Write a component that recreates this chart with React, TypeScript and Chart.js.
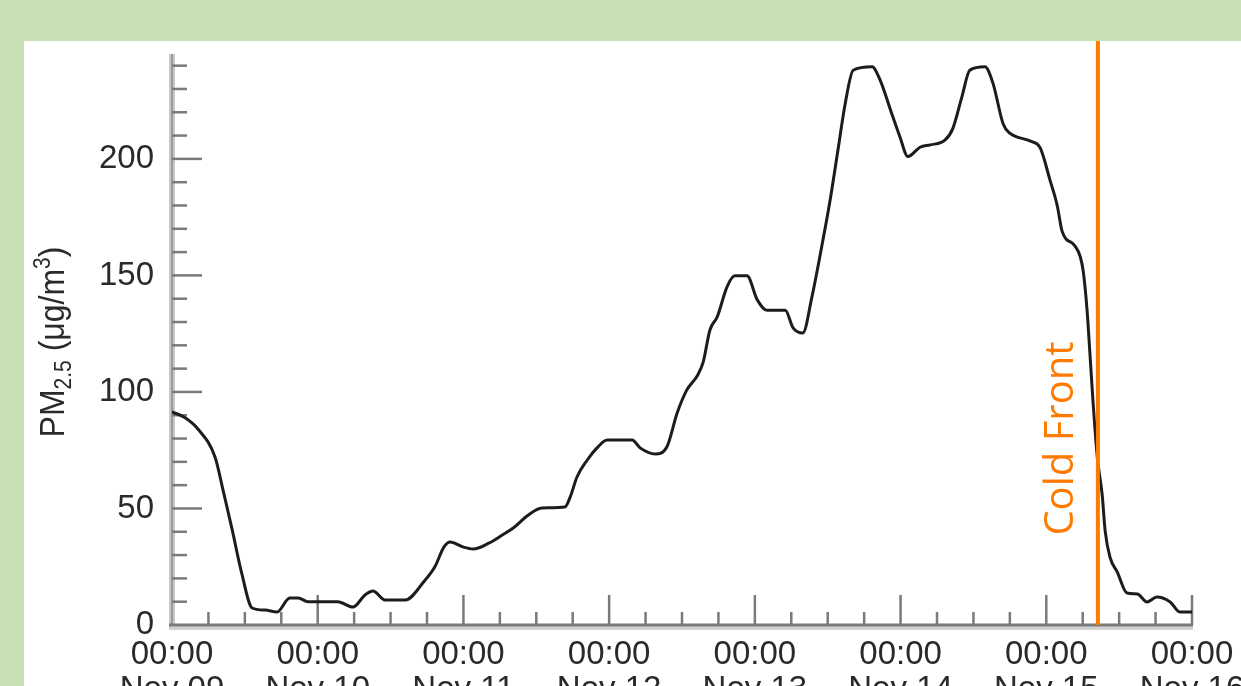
import React, { useEffect, useRef } from "react";
import { Chart, registerables } from "chart.js";

Chart.register(...registerables);

// hours since Nov 09 00:00
const hours = [
  0, 2.1, 4.3, 7.1, 8.4, 9.9, 11.5, 13.2, 15.3, 17.3, 19.4, 20.8, 22.4, 27.3, 29.8, 31.8, 33.1, 35.1, 38.4, 41.7,
  43.3, 44.8, 45.8, 47.9, 49.6, 52.1, 54.4, 56.2, 58.6, 60.9, 64.7, 65.6, 66.7, 68.4, 70.0, 71.7, 75.8, 77.1, 79.6, 81.5,
  83.2, 84.8, 86.6, 87.5, 88.6, 89.8, 91.4, 92.7, 94.7, 96.4, 98.0, 101.0, 102.3, 103.9, 105.4, 107.2, 108.4, 109.7, 110.9, 112.2,
  115.3, 116.6, 118.6, 119.9, 121.2, 123.2, 124.9, 127.3, 128.6, 130.1, 131.4, 133.9, 135.2, 136.9, 138.0, 141.3, 143.0, 144.6, 145.8, 146.6,
  148.7, 149.6, 150.1, 150.7, 151.2, 151.7, 152.4, 153.2, 153.7, 154.5, 155.7, 157.3, 159.0, 160.6, 162.2, 164.4, 166.0, 168.0,
];
const pm25 = [
  91.5, 89, 84, 72, 58, 41, 22, 7.3, 6.4, 5.6, 11.6, 11.6, 10, 10, 7.7, 12.9, 14.6, 10.7, 10.7, 19.3,
  25, 33.5, 35.6, 33.5, 32.6, 35, 38.6, 41.6, 47, 50.2, 50.6, 55, 63.5, 70.8, 76, 79.4, 79.4, 76, 73.4, 76.4,
  91, 100.9, 107.3, 112.9, 126.6, 132.2, 145, 149.8, 149.8, 139.5, 135, 135, 127.5, 125.3, 140.8, 165, 182.4, 204, 224, 238,
  239.5, 234, 219, 209.4, 201, 205, 206, 208, 213, 226.6, 238, 239.5, 232.6, 215, 211, 207.7, 204.7, 191, 180, 169,
  162.7, 158, 151.5, 135.6, 116, 95.7, 72, 56, 40.3, 29, 22.7, 13.7, 13.3, 9.9, 12, 9.9, 5.6, 5.6,
];
const dayLabels = ["Nov 09", "Nov 10", "Nov 11", "Nov 12", "Nov 13", "Nov 14", "Nov 15", "Nov 16"];
const timeLabel = "00:00";
const yTickValues = [0, 50, 100, 150, 200];
const yMinorStep = 10;
const xMinorStep = 6;
const yMax = 245;
const xMax = 168;
const coldFrontHour = 152.5;
const coldFrontLabel = "Cold Front";
const coldFrontLabelValue = 80;
const yTitleParts = [
  { t: "PM", k: "n" },
  { t: "2.5", k: "sub" },
  { t: " (\u03BCg/m", k: "n" },
  { t: "3", k: "sup" },
  { t: ")", k: "n" },
];

const ORANGE = "#ff7a00";
const TEXT = "#2a2a2a";
const FONT = "'Liberation Sans', Arial, sans-serif";

const decorPlugin = {
  id: "decor",
  beforeDatasetsDraw(chart: any) {
    const ctx = chart.ctx;
    const xs = chart.scales.x;
    const ys = chart.scales.y;
    const left = xs.getPixelForValue(0);
    const right = xs.getPixelForValue(xMax);
    const bottom = ys.getPixelForValue(0);
    const top = ys.getPixelForValue(yMax);
    ctx.save();
    // y axis line
    ctx.fillStyle = "#c8c8c8";
    ctx.fillRect(left - 3, top, 6, bottom - top + 2);
    ctx.strokeStyle = "#9a9a9a";
    ctx.lineWidth = 2;
    ctx.beginPath();
    ctx.moveTo(left, top);
    ctx.lineTo(left, bottom);
    ctx.stroke();
    // x axis line
    ctx.fillStyle = "#d2d2d2";
    ctx.fillRect(left - 3, bottom, right - left + 4, 5);
    ctx.strokeStyle = "#7a7a7a";
    ctx.lineWidth = 3;
    ctx.beginPath();
    ctx.moveTo(left - 3, bottom);
    ctx.lineTo(right + 1, bottom);
    ctx.stroke();
    // y ticks (inward)
    ctx.strokeStyle = "#7a7a7a";
    ctx.lineWidth = 2.5;
    for (let v = yMinorStep; v <= yMax; v += yMinorStep) {
      const y = ys.getPixelForValue(v);
      const len = v % 50 === 0 ? 30 : 15;
      ctx.beginPath();
      ctx.moveTo(left, y);
      ctx.lineTo(left + len, y);
      ctx.stroke();
    }
    // x ticks (inward)
    for (let h = xMinorStep; h <= xMax; h += xMinorStep) {
      const x = xs.getPixelForValue(h);
      const len = h % 24 === 0 ? 30 : 13;
      ctx.beginPath();
      ctx.moveTo(x, bottom);
      ctx.lineTo(x, bottom - len);
      ctx.stroke();
    }
    // y title
    const fs = 32;
    const small = 21;
    ctx.fillStyle = TEXT;
    ctx.translate(51, 342);
    ctx.rotate(-Math.PI / 2);
    ctx.scale(1, 1.1);
    let total = 0;
    const widths = yTitleParts.map((p) => {
      ctx.font = `${p.k === "n" ? fs : small}px ${FONT}`;
      const w = ctx.measureText(p.t).width;
      total += w;
      return w;
    });
    let cx = -total / 2;
    ctx.textBaseline = "alphabetic";
    ctx.textAlign = "left";
    yTitleParts.forEach((p, i) => {
      ctx.font = `${p.k === "n" ? fs : small}px ${FONT}`;
      let dy = fs * 0.36;
      if (p.k === "sub") dy += fs * 0.22;
      if (p.k === "sup") dy -= fs * 0.4;
      ctx.fillText(p.t, cx, dy);
      cx += widths[i];
    });
    ctx.restore();
  },
  afterDraw(chart: any) {
    const ctx = chart.ctx;
    const xs = chart.scales.x;
    const ys = chart.scales.y;
    const x = xs.getPixelForValue(coldFrontHour);
    const bottom = ys.getPixelForValue(0);
    ctx.save();
    ctx.strokeStyle = ORANGE;
    ctx.lineWidth = 4;
    ctx.beginPath();
    ctx.moveTo(x, 41);
    ctx.lineTo(x, bottom);
    ctx.stroke();
    ctx.fillStyle = ORANGE;
    ctx.font = "40px 'Open Sans', sans-serif";
    ctx.translate(x - 25, ys.getPixelForValue(coldFrontLabelValue));
    ctx.rotate(-Math.PI / 2);
    ctx.textAlign = "center";
    ctx.textBaseline = "alphabetic";
    ctx.fillText(coldFrontLabel, 0, 0);
    ctx.restore();
  },
};

export default function App() {
  const ref = useRef<HTMLCanvasElement | null>(null);
  useEffect(() => {
    if (!ref.current) return;
    const chart = new Chart(ref.current, {
      type: "line",
      data: {
        datasets: [
          {
            data: hours.map((h, i) => ({ x: h, y: pm25[i] })),
            borderColor: "#1c1c1c",
            borderWidth: 3,
            pointRadius: 0,
            fill: false,
            cubicInterpolationMode: "monotone",
          },
        ],
      },
      options: {
        responsive: false,
        animation: false,
        layout: { padding: { left: 0, right: 49, top: 54, bottom: 0 } },
        plugins: { legend: { display: false }, tooltip: { enabled: false } },
        scales: {
          x: {
            type: "linear",
            min: 0,
            max: xMax,
            afterFit: (s: any) => {
              s.height = 105;
              s.paddingLeft = 0;
              s.paddingRight = 0;
            },
            afterBuildTicks: (s: any) => {
              s.ticks = dayLabels.map((_, i) => ({ value: i * 24 }));
            },
            grid: { display: false, drawTicks: false },
            border: { display: false },
            ticks: {
              autoSkip: false,
              maxRotation: 0,
              minRotation: 0,
              padding: 12,
              color: TEXT,
              font: { family: FONT, size: 33, lineHeight: 1.06 },
              callback: (v: any) => [timeLabel, dayLabels[Math.round(Number(v) / 24)]],
            },
          },
          y: {
            min: 0,
            max: yMax,
            afterFit: (s: any) => {
              s.width = 172;
              s.paddingTop = 0;
              s.paddingBottom = 0;
            },
            afterBuildTicks: (s: any) => {
              s.ticks = yTickValues.map((v) => ({ value: v }));
            },
            grid: { display: false, drawTicks: false },
            border: { display: false },
            ticks: {
              padding: 18,
              color: TEXT,
              font: { family: FONT, size: 33 },
            },
          },
        },
      },
      plugins: [decorPlugin],
    } as any);
    return () => chart.destroy();
  }, []);
  return (
    <div
      style={{
        position: "absolute",
        left: 0,
        top: 0,
        width: 1241,
        height: 686,
        overflow: "hidden",
        background: "#c6e0b4",
      }}
    >
      <div style={{ position: "absolute", left: 24, top: 41, right: 0, bottom: 0, background: "#ffffff" }} />
      <canvas ref={ref} width={1241} height={730} style={{ position: "absolute", left: 0, top: 0 }} />
    </div>
  );
}
